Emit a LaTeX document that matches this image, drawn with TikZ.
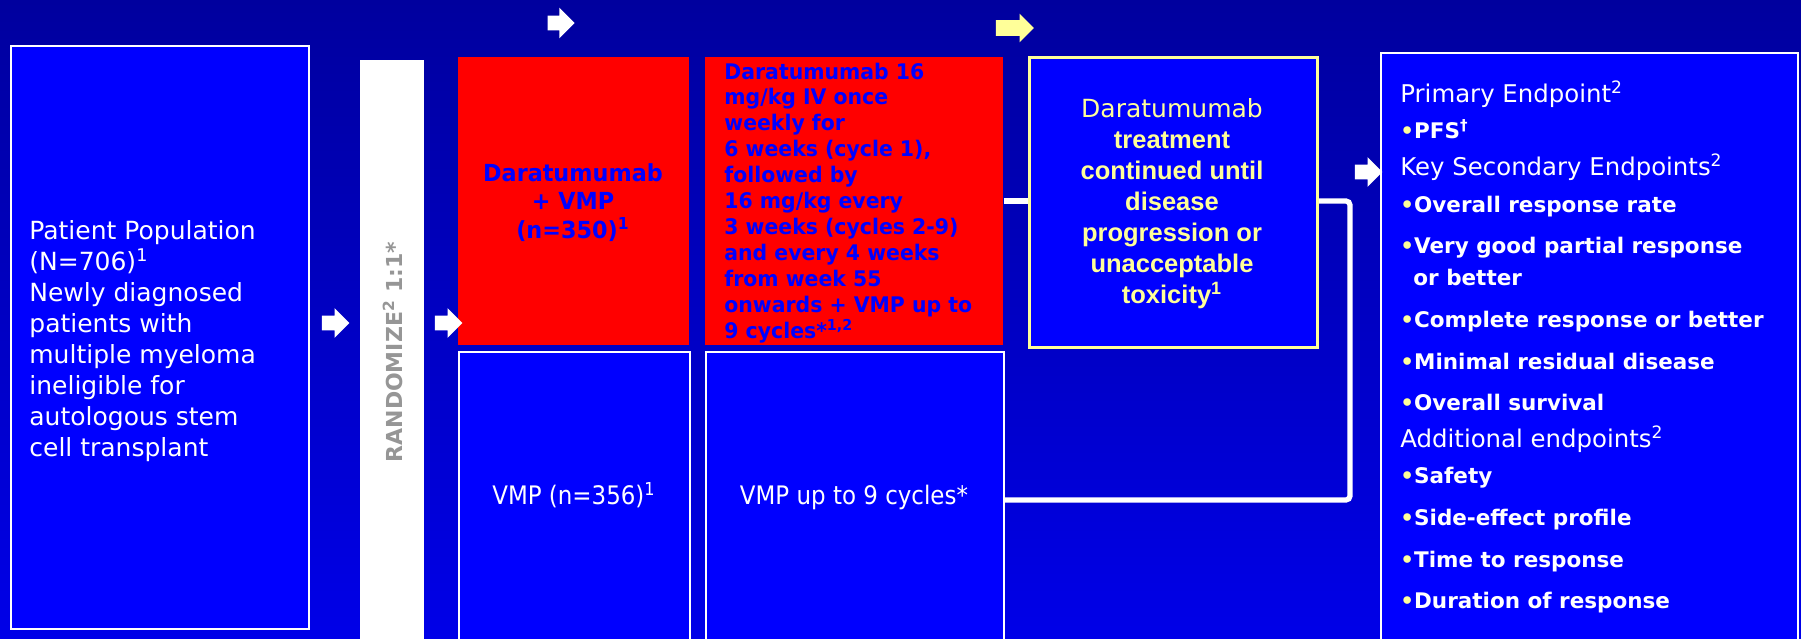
\documentclass[tikz,border=0pt]{standalone}
\usepackage{fontspec}
\setmainfont{DejaVu Sans}
\newfontfamily\dvs{DejaVu Sans}
\newfontfamily\dvsn[FakeStretch=0.95]{DejaVu Sans}
\newfontfamily\dvsnr[FakeStretch=0.9]{DejaVu Sans}
\newfontfamily\libs{Liberation Sans}
\usetikzlibrary{shapes.arrows}
\definecolor{bgtop}{RGB}{0,0,158}
\definecolor{bgbot}{RGB}{0,0,232}
\definecolor{boxblue}{RGB}{0,0,255}
\definecolor{boxred}{RGB}{255,0,0}
\definecolor{ltyel}{RGB}{255,255,153}
\definecolor{rndgray}{RGB}{150,150,150}
\newcommand{\bul}{{\color{ltyel}•}}
\begin{document}
\begin{tikzpicture}[x=0.5pt,y=-0.5pt,
  sz/.style 2 args={minimum width=#1*0.5pt, minimum height=#2*0.5pt},
  box/.style={draw=white, line width=0.8pt, fill=boxblue, inner sep=0pt, anchor=north west},
  redbox/.style={fill=boxred, draw=none, inner sep=0pt, anchor=north west},
  conn/.style={draw=white, line width=2.6pt},
  blk/.style={single arrow, fill=white, draw=none, inner xsep=0pt, inner ysep=3.5pt,
    single arrow head extend=3.75pt, single arrow tip angle=90, minimum height=13.75pt},
  eph/.style={anchor=base west, inner sep=0pt, text=white, font=\dvs\fontsize{12.2pt}{14pt}\selectfont},
  epb/.style={anchor=base west, inner sep=0pt, text=white, font=\dvs\bfseries\fontsize{10.75pt}{13pt}\selectfont}]
\useasboundingbox (0,0) rectangle (1801,638);
\shade[top color=bgtop, bottom color=bgbot] (0,0) rectangle (1801,638);

% boxes
\node[box, sz={298}{583}] (pat) at (10,45) {};
\node[fill=white, draw=none, inner sep=0pt, anchor=north west, sz={64}{580}] (rnd) at (360,60) {};
\node[redbox, sz={231}{288}] (red1) at (458,57) {};
\node[redbox, sz={298}{288}] (red2) at (705,57) {};
\node[box, sz={231}{292}] (vmp1) at (458,351) {};
\node[box, sz={298}{292}] (vmp2) at (705,351) {};
\node[box, draw=ltyel, line width=1.5pt, sz={288}{290}] (yel) at (1028,56) {};
\node[box, sz={417}{600}] (ep) at (1380,52) {};

% texts (multi-line nodes are anchored at the baseline of their last line)
\node[anchor=base west, align=left, inner sep=0pt, text=white,
  font=\dvs\fontsize{12.5pt}{15.5pt}\selectfont] (pattxt) at (29,456)
  {Patient Population\\(N=706)\textsuperscript{1}\\Newly diagnosed\\patients with\\multiple myeloma\\ineligible for\\autologous stem\\cell transplant};

\node[rotate=90, anchor=base, inner sep=0pt, text=rndgray,
  font=\dvs\bfseries\fontsize{11pt}{13pt}\selectfont] (rndtxt) at (402,352)
  {RANDOMIZE\textsuperscript{2} 1:1*};

\node[anchor=base, align=center, inner sep=0pt, text=boxblue,
  font=\dvsn\bfseries\fontsize{11.75pt}{14.25pt}\selectfont] (red1txt) at (573,238)
  {Daratumumab\\+ VMP\\(n=350)\textsuperscript{1}};

\node[anchor=base west, align=left, inner sep=0pt, text=boxblue,
  font=\dvsn\bfseries\fontsize{10.75pt}{12.95pt}\selectfont] (red2txt) at (724,338)
  {Daratumumab 16\\mg/kg IV once\\weekly for\\6 weeks (cycle 1),\\followed by\\16 mg/kg every\\3 weeks (cycles 2-9)\\and every 4 weeks\\from week 55\\onwards + VMP up to\\9 cycles*\textsuperscript{1,2}};

\node[anchor=base, align=center, inner sep=0pt, text=ltyel,
  font=\libs\bfseries\fontsize{12.75pt}{15.5pt}\selectfont] (yeltxt) at (1172,303)
  {{\dvs\mdseries\fontsize{12.5pt}{15.5pt}\selectfont Daratumumab}\\treatment\\continued until\\disease\\progression or\\unacceptable\\toxicity\textsuperscript{1}};

\node[anchor=base, inner sep=0pt, text=white,
  font=\dvsnr\fontsize{12.75pt}{15pt}\selectfont] (vmp1txt) at (574,504) {VMP (n=356)\textsuperscript{1}};
\node[anchor=base, inner sep=0pt, text=white,
  font=\dvsnr\fontsize{12.75pt}{15pt}\selectfont] (vmp2txt) at (854,504) {VMP up to 9 cycles*};

% endpoints
\node[eph] (e1) at (1400,102) {Primary Endpoint\textsuperscript{2}};
\node[epb] (e2) at (1400,138) {\bul PFS\textsuperscript{†}};
\node[eph] (e3) at (1400,175) {Key Secondary Endpoints\textsuperscript{2}};
\node[epb] (e4) at (1400,212) {\bul Overall response rate};
\node[epb] (e5) at (1400,253) {\bul Very good partial response};
\node[epb] (e6) at (1413,285) {or better};
\node[epb] (e7) at (1400,327) {\bul Complete response or better};
\node[epb] (e8) at (1400,369) {\bul Minimal residual disease};
\node[epb] (e9) at (1400,410) {\bul Overall survival};
\node[eph] (e10) at (1400,447) {Additional endpoints\textsuperscript{2}};
\node[epb] (e11) at (1400,483) {\bul Safety};
\node[epb] (e12) at (1400,525) {\bul Side-effect profile};
\node[epb] (e13) at (1400,567) {\bul Time to response};
\node[epb] (e14) at (1400,608) {\bul Duration of response};

% connectors
\coordinate (ly1) at (0,201);
\coordinate (ly2) at (0,500);
\coordinate (jx1) at (1350,201);
\coordinate (jx2) at (1350,500);
\draw[conn] (red2.east |- ly1) -- (yel.west |- ly1);
\draw[conn, rounded corners=2pt] (yel.east |- ly1) -- (jx1) -- (jx2) -- (vmp2.east |- ly2);

% block arrows
\node[blk] (a1) at (332,323) {};
\node[blk] (a2) at (445,323) {};
\node[blk] (a3) at (1365,172) {};
\node[blk, inner ysep=3.5pt, single arrow head extend=4pt, minimum height=13.5pt] (a4) at (557.5,23) {};
\node[blk, fill=ltyel, inner ysep=3.75pt, single arrow head extend=3.25pt, minimum height=19pt] (a5) at (1011,28) {};
\end{tikzpicture}
\end{document}
